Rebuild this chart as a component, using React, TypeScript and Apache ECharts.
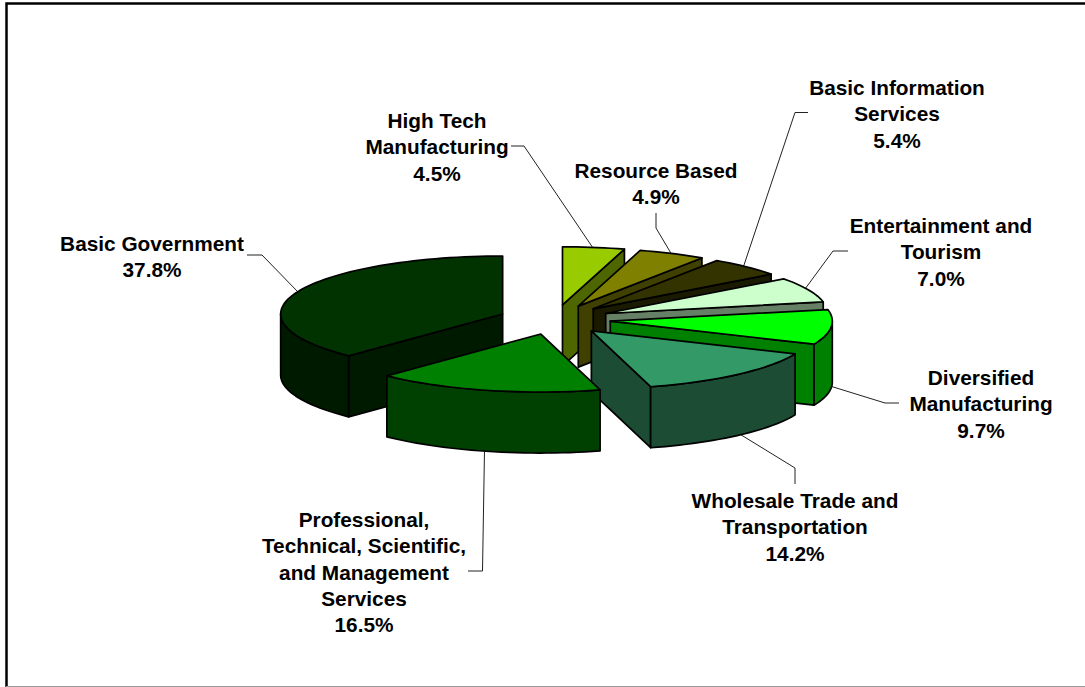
import React, { useEffect, useRef } from "react";
import * as echarts from "echarts";

const categories = [
  "High Tech\nManufacturing",
  "Resource Based",
  "Basic Information\nServices",
  "Entertainment and\nTourism",
  "Diversified\nManufacturing",
  "Wholesale Trade and\nTransportation",
  "Professional,\nTechnical, Scientific,\nand Management\nServices",
  "Basic Government",
];
const shares = [4.5, 4.9, 5.4, 7.0, 9.7, 14.2, 16.5, 37.8];
const topColors = ["#99cc00", "#808000", "#333300", "#ccffcc", "#00ff00", "#339966", "#008000", "#003300"];
const wallColors = ["#4d6600", "#404000", "#1a1a00", "#668066", "#008000", "#1c4c33", "#004000", "#001a00"];
// draw order, back to front
const drawOrder = [7, 0, 1, 2, 3, 4, 5, 6];

const labelCentres: [number, number][] = [
  [437, 107], [656, 157], [897, 74], [941, 212], [981, 364], [795, 487], [364, 506], [152, 230],
];
const leaders: number[][][] = [
  [[511, 146], [524, 146], [593, 248]],
  [[656, 213], [656, 228], [672, 255]],
  [[808, 112.5], [795, 112.5], [743, 268]],
  [[848, 251], [833, 251], [805, 289]],
  [[899, 403], [885, 403], [830, 386]],
  [[795, 484], [795, 468], [738, 433]],
  [[484.5, 450], [482.5, 571], [468, 571]],
  [[247, 255], [262, 255], [298, 292]],
];

const CX = 554.6, CY = 319.6, RX = 222, RY = 58, DEPTH = 61, EX = 56, EY = 14.9;
const rad = (d: number) => (d * Math.PI) / 180;

function renderItem(params: any, api: any) {
  const i = drawOrder[params.dataIndex];
  const before = shares.slice(0, i).reduce((a, b) => a + b, 0);
  const a0 = (before / 100) * 360;
  const a1 = ((before + api.value(0)) / 100) * 360;
  const mid = rad((a0 + a1) / 2);
  const ax = CX + EX * Math.sin(mid);
  const ay = CY - EY * Math.cos(mid);
  const rim = (deg: number): [number, number] => [ax + RX * Math.sin(rad(deg)), ay - RY * Math.cos(rad(deg))];
  const arc = (from: number, to: number) => {
    const n = Math.max(2, Math.ceil((to - from) / 2));
    const pts: [number, number][] = [];
    for (let k = 0; k <= n; k++) pts.push(rim(from + ((to - from) * k) / n));
    return pts;
  };
  const down = (p: [number, number]): [number, number] => [p[0], p[1] + DEPTH];
  const faceStyle = (fill: string) => ({ fill, stroke: "#000", lineWidth: 1.7, lineJoin: "round" });
  const children: any[] = [];
  const wall = (points: [number, number][]) =>
    children.push({ type: "polygon", shape: { points }, style: faceStyle(wallColors[i]) });
  const apex: [number, number] = [ax, ay];
  if (a0 > 180) {
    const r = rim(a0);
    wall([apex, r, down(r), down(apex)]);
  }
  if (a1 < 180) {
    const r = rim(a1);
    wall([apex, r, down(r), down(apex)]);
  }
  const w0 = Math.max(a0, 90), w1 = Math.min(a1, 270);
  if (w1 > w0) {
    const top = arc(w0, w1);
    wall([...top, ...top.slice().reverse().map(down)]);
  }
  children.push({
    type: "polygon",
    shape: { points: [apex, ...arc(a0, a1)] },
    style: faceStyle(topColors[i]),
  });
  return { type: "group", children };
}

export default function App() {
  const ref = useRef<HTMLDivElement>(null);
  useEffect(() => {
    document.body.style.margin = "0";
    const chart = echarts.init(ref.current!, undefined, { renderer: "svg" });
    const leaderStyle = { stroke: "#222", lineWidth: 1, fill: "none" };
    chart.setOption({
      animation: false,
      backgroundColor: "#fff",
      graphic: [
        { type: "polyline", shape: { points: [[6.5, 687], [6.5, 3.5], [1085, 3.5]] }, style: { stroke: "#000", lineWidth: 2.5, fill: "none" } },
        { type: "line", shape: { x1: 6, y1: 686.5, x2: 1085, y2: 686.5 }, style: { stroke: "#999", lineWidth: 1 } },
        ...leaders.map((pts) => ({ type: "polyline", shape: { points: pts }, style: leaderStyle })),
        ...categories.map((c, i) => ({
          type: "text",
          x: labelCentres[i][0],
          y: labelCentres[i][1],
          style: {
            text: `${c}\n${shares[i].toFixed(1)}%`,
            fontFamily: "Liberation Sans",
            fontWeight: "bold",
            fontSize: 20.8,
            lineHeight: 26.4,
            fill: "#000",
            align: "center",
            verticalAlign: "top",
          },
        })),
      ],
      series: [
        {
          type: "custom",
          coordinateSystem: "none",
          renderItem,
          silent: true,
          data: drawOrder.map((i) => [shares[i]]),
        },
      ],
    });
    return () => chart.dispose();
  }, []);
  return <div ref={ref} style={{ position: "fixed", left: 0, top: 0, width: 1085, height: 687 }} />;
}
